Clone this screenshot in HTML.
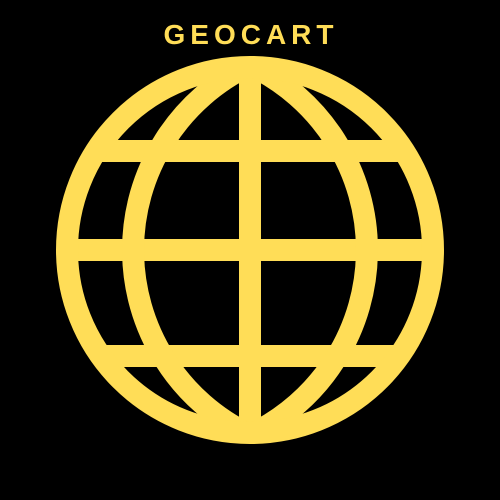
<!DOCTYPE html>
<html><head><meta charset="utf-8"><style>
html,body{margin:0;padding:0;background:#000;width:500px;height:500px;overflow:hidden}
</style></head><body>
<svg width="500" height="500" viewBox="0 0 500 500">
<rect x="0" y="0" width="500" height="500" fill="#000"/>
<text x="251" y="44" text-anchor="middle" fill="#FFDD57" font-family="Liberation Sans, sans-serif" font-size="28" font-weight="bold" letter-spacing="5">GEOCART</text>
<defs><clipPath id="c"><circle cx="250" cy="250" r="183"/></clipPath></defs>
<g stroke="#FFDD57" stroke-width="22" fill="none">
<g clip-path="url(#c)">
<line x1="40" y1="151" x2="460" y2="151"/>
<line x1="40" y1="250" x2="460" y2="250"/>
<line x1="40" y1="356" x2="460" y2="356"/>
<line x1="250" y1="40" x2="250" y2="460"/>
<path d="M250 65 A204.8 204.8 0 0 1 250 435 A204.8 204.8 0 0 1 250 65 Z"/>
</g>
<circle cx="250" cy="250" r="183"/>
</g>
</svg>
</body></html>
